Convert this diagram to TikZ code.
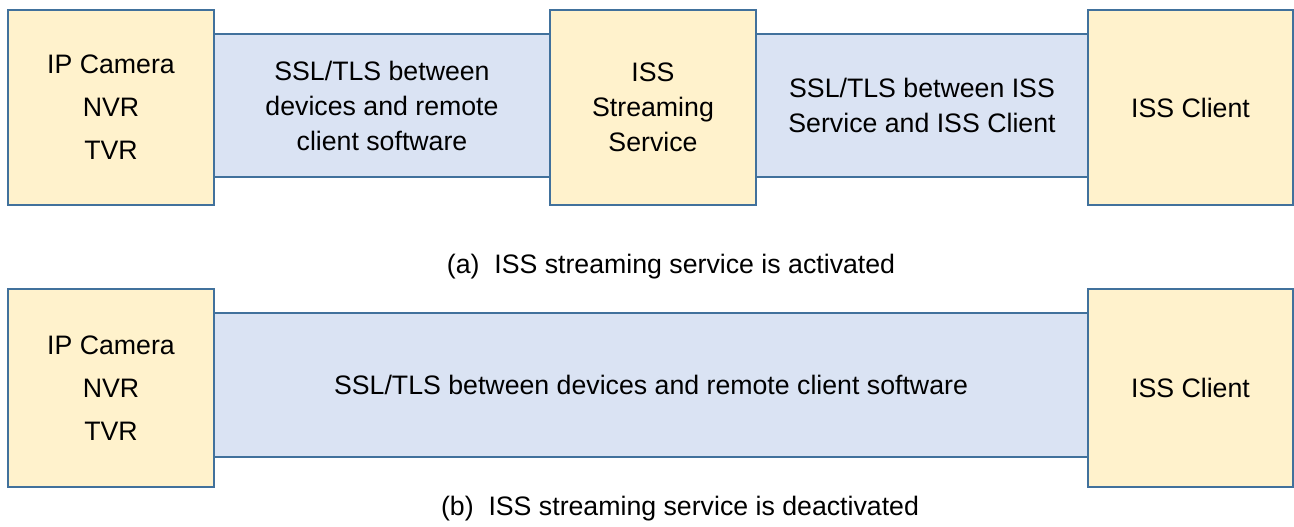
\documentclass[tikz,border=0pt]{standalone}
\usepackage{fontspec}
\setmainfont{Liberation Sans}
\definecolor{boxfill}{HTML}{FFF2CC}
\definecolor{bandfill}{HTML}{DAE3F3}
\definecolor{edgeblue}{HTML}{41719C}
\tikzset{
  dev/.style={shape=rectangle,draw=edgeblue,fill=boxfill,line width=1.2pt,align=center,
    minimum width=4.12cm,font=\fontsize{15.2}{19.9}\selectfont},
  devlist/.style={dev,font=\fontsize{15.2}{24.5}\selectfont},
  band/.style={shape=rectangle,draw=edgeblue,fill=bandfill,line width=1.2pt,align=center,
    font=\fontsize{15.2}{19.9}\selectfont},
  caption/.style={anchor=base,font=\fontsize{15.2}{19.9}\selectfont}
}
\begin{document}
\begin{tikzpicture}[x=0.02cm,y=-0.02cm]
            \useasboundingbox (0,0) rectangle (1294,527);
            % (a) activated
            \node[band,minimum width=6.72cm,minimum height=2.86cm] (linkA) at (382,105.5) {SSL/TLS between\\devices and remote\\client software};
            \node[band,minimum width=6.64cm,minimum height=2.86cm] (linkB) at (922,105.5) {SSL/TLS between ISS\\Service and ISS Client};
            \node[devlist,minimum height=3.9cm] (devA) at (111,107.5) {IP Camera\\NVR\\TVR};
            \node[dev,minimum height=3.9cm] (iss) at (653,107.5) {ISS\\Streaming\\Service};
            \node[dev,minimum width=4.1cm,minimum height=3.9cm] (clientA) at (1190.5,107.5) {ISS Client};
            \node[caption] (capA) at (671,273) {(a)~~ISS streaming service is activated};

            % (b) deactivated
            \node[band,minimum width=17.48cm,minimum height=2.88cm] (linkC) at (651,385) {SSL/TLS between devices and remote client software};
            \node[devlist,minimum height=3.96cm] (devB) at (111,388) {IP Camera\\NVR\\TVR};
            \node[dev,minimum width=4.1cm,minimum height=3.96cm] (clientB) at (1190.5,388) {ISS Client};
            \node[caption] (capB) at (680,515) {(b)~~ISS streaming service is deactivated};
        \end{tikzpicture}
\end{document}
